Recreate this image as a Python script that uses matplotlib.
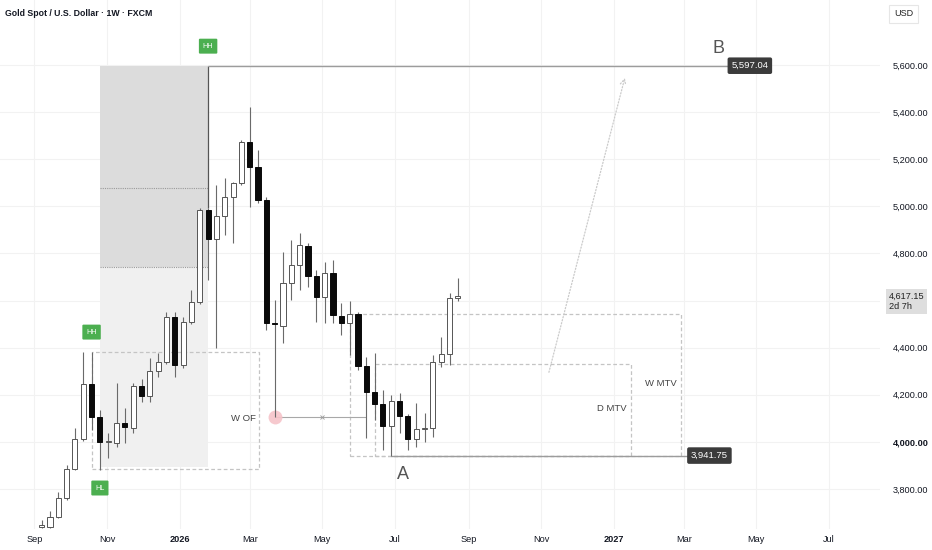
import numpy as np
import pandas as pd
import matplotlib
matplotlib.use("Agg")
import matplotlib.pyplot as plt
import matplotlib.dates as mdates
from matplotlib.patches import Rectangle

plt.rcParams['font.family'] = ['Liberation Sans', 'DejaVu Sans']

# weekly bars, Gold Spot / USD (FXCM)
dates = pd.date_range("2025-09-07", periods=51, freq="7D")
opens = [3640, 3639, 3681, 3762, 3885, 4012, 4246, 4106, 3999, 3995, 4080, 4059, 4237, 4195, 4301,
         4339, 4530, 4326, 4509, 4594, 4984, 4861, 4959, 5040, 5099, 5273, 5167, 5027, 4505, 4492,
         4674, 4751, 4832, 4704, 4615, 4717, 4535, 4505, 4543, 4322, 4212, 4161, 4067, 4174, 4110,
         4012, 4055, 4058, 4339, 4373, 4611]
highs = [3670, 3707, 3787, 3902, 4059, 4382, 4382, 4135, 4038, 4250, 4144, 4250, 4267, 4356, 4377,
         4551, 4551, 4530, 4645, 4993, 4995, 5090, 5120, 5105, 5280, 5422, 5239, 5040, 4602, 4806,
         4857, 4887, 4845, 4730, 4764, 4772, 4590, 4598, 4550, 4360, 4377, 4220, 4199, 4208, 4118,
         4165, 4123, 4369, 4445, 4632, 4696]
lows = [3635, 3635, 3675, 3755, 3880, 4005, 4050, 3881, 3932, 3978, 3995, 4038, 4169, 4169, 4275,
        4330, 4275, 4315, 4500, 4585, 4687, 4399, 4878, 4844, 5090, 4997, 5014, 4475, 4106, 4420,
        4602, 4645, 4657, 4509, 4505, 4505, 4454, 4369, 4305, 4016, 4093, 3966, 3941.75, 4038, 3966,
        3978, 3999, 4021, 4318, 4326, 4600]
closes = [3645, 3681, 3762, 3885, 4012, 4246, 4106, 3999, 4003, 4080, 4063, 4237, 4195, 4301, 4339,
          4530, 4326, 4509, 4594, 4984, 4861, 4959, 5040, 5099, 5273, 5167, 5027, 4505, 4500, 4674,
          4751, 4836, 4704, 4615, 4717, 4539, 4505, 4543, 4322, 4212, 4161, 4067, 4174, 4110, 4012,
          4055, 4060, 4339, 4373, 4611, 4617.15]

price_ticks = [3800, 4000, 4200, 4400, 4600, 4800, 5000, 5200, 5400, 5600]
month_ticks = ["2025-09-01", "2025-11-01", "2026-01-01", "2026-03-01", "2026-05-01", "2026-07-01",
               "2026-09-01", "2026-11-01", "2027-01-01", "2027-03-01", "2027-05-01", "2027-07-01"]
month_labels = ["Sep", "Nov", "2026", "Mar", "May", "Jul", "Sep", "Nov", "2027", "Mar", "May", "Jul"]

level_b = 5597.04
level_a = 3941.75
last_price = 4617.15

def d(s):
    return mdates.datestr2num(s)

fig = plt.figure(figsize=(9.32, 5.5), dpi=100)
ax = fig.add_axes([0, 21 / 550, 880 / 932, 529 / 550])
ax.set_xlim(d("2025-08-03"), d("2027-08-13"))
ax.set_ylim(3630, 5876)

# grid
ax.set_xticks([d(m) for m in month_ticks])
ax.set_xticklabels(month_labels)
ax.set_yticks(price_ticks)
ax.set_yticklabels(["" if p == 4600 else f"{p:,.2f}" for p in price_ticks])
ax.grid(True, color="#f2f2f2", lw=0.8, zorder=0)
ax.set_axisbelow(True)
ax.yaxis.tick_right()
ax.tick_params(length=0, labelsize=6.6, colors="#131722")
ax.tick_params(axis="y", pad=9)
ax.tick_params(axis="x", pad=4)
for lab in ax.get_xticklabels():
    if lab.get_text() in ("2026", "2027"):
        lab.set_fontweight("bold")
for lab in ax.get_yticklabels():
    if lab.get_text() == "4,000.00":
        lab.set_fontweight("bold")
for s in ax.spines.values():
    s.set_visible(False)

# shaded zone behind the rally
x0, x1 = d("2025-10-26"), d("2026-01-25")
ax.add_patch(Rectangle((x0, 4742), x1 - x0, level_b - 4742, fc="#dcdcdc", ec="none", zorder=1))
ax.add_patch(Rectangle((x0, 3893), x1 - x0, 4742 - 3893, fc="#f0f0f0", ec="none", zorder=1))
ax.hlines([5078, 4742], x0, x1, colors="#9a9a9a", linestyles=(0, (1, 1)), lw=0.8, zorder=1.5)

# dashed boxes
def box(a, b, lo, hi):
    ax.add_patch(Rectangle((d(a), lo), d(b) - d(a), hi - lo, fill=False, ec="#c4c4c4",
                           ls=(0, (3, 2)), lw=0.9, zorder=1.6))

box("2025-10-19", "2026-03-09", 3885, 4382)
box("2026-05-24", "2027-02-27", level_a, 4543)
box("2026-06-14", "2027-01-16", level_a, 4331)
ax.text(d("2026-03-06"), 4100, "W OF", ha="right", va="center", fontsize=6.8, color="#444", zorder=2)
ax.text(d("2027-02-23"), 4248, "W MTV", ha="right", va="center", fontsize=6.8, color="#444", zorder=2)
ax.text(d("2027-01-12"), 4140, "D MTV", ha="right", va="center", fontsize=6.8, color="#444", zorder=2)

# levels A / B
ax.vlines(d("2026-01-25"), 4995, level_b, colors="#555", lw=0.9, zorder=2)
ax.hlines(level_b, d("2026-01-25"), d("2027-04-09"), colors="#9c9c9c", lw=1.0, zorder=2)
ax.hlines(level_a, d("2026-06-28"), d("2027-03-06"), colors="#9c9c9c", lw=1.0, zorder=2)
ax.text(d("2027-04-10"), level_b, f"{level_b:,.2f}", ha="left", va="center", fontsize=6.8,
        color="white", zorder=5,
        bbox=dict(boxstyle="round,pad=0.4,rounding_size=0.2", fc="#3b3b3b", ec="none"))
ax.text(d("2027-03-07"), level_a, f"{level_a:,.2f}", ha="left", va="center", fontsize=6.8,
        color="white", zorder=5,
        bbox=dict(boxstyle="round,pad=0.4,rounding_size=0.2", fc="#3b3b3b", ec="none"))
ax.text(d("2027-03-30"), 5672, "B", ha="center", va="center", fontsize=13, color="#555", zorder=5)
ax.text(d("2026-07-08"), 3862, "A", ha="center", va="center", fontsize=13, color="#555", zorder=5)

# sweep marker
ax.hlines(4106, d("2026-03-22"), d("2026-06-07"), colors="#a8a8a8", lw=0.8, zorder=2)
ax.plot(d("2026-05-01"), 4106, marker="x", ms=2.5, color="#999", mew=0.6, zorder=2)
ax.plot(d("2026-03-22"), 4106, marker="o", ms=10, color="#f6c3c9", mec="none", alpha=0.9, zorder=2.5)

# projection arrow
ax.annotate("", xy=(d("2027-01-11"), 5557), xytext=(d("2026-11-07"), 4284),
            arrowprops=dict(arrowstyle="->", color="#cacaca", lw=0.9, ls=(0, (1, 1.5))), zorder=2)

# HH / HL tags
def tag(date, price, txt):
    ax.text(d(date), price, txt, ha="center", va="center", fontsize=5.2, color="white", zorder=6,
            bbox=dict(boxstyle="round,pad=0.55,rounding_size=0.15", fc="#4caf50", ec="none"))

tag("2026-01-25", 5680, "HH")
tag("2025-10-19", 4466, "HH")
tag("2025-10-26", 3804, "HL")

# candles
x = mdates.date2num(dates)
o = np.array(opens)
c = np.array(closes)
up = c >= o
body_lo = np.minimum(o, c)
body_h = np.maximum(np.abs(c - o), 4)
ax.vlines(x, lows, highs, colors="#6a6a6a", lw=0.8, zorder=3)
ax.bar(x[up], body_h[up], 4.3, bottom=body_lo[up], color="white", edgecolor="#555555", lw=0.7, zorder=4)
ax.bar(x[~up], body_h[~up], 4.3, bottom=body_lo[~up], color="#0a0a0a", edgecolor="#0a0a0a", lw=0.7, zorder=4)

# last price tag on the scale
ax.text(889 / 880, 4596, f"{last_price:,.2f}\n2d 7h", transform=ax.get_yaxis_transform(),
        ha="left", va="center", fontsize=6.6, color="#222", linespacing=1.1, zorder=6,
        bbox=dict(boxstyle="square,pad=0.3", fc="#dedede", ec="none"), clip_on=False)

fig.text(5 / 932, 1 - 14 / 550, "Gold Spot / U.S. Dollar · 1W · FXCM", ha="left", va="center",
         fontsize=6.3, fontweight="bold", color="#131722")
fig.text(894 / 932, 1 - 14 / 550, "USD", ha="left", va="center", fontsize=6.5, color="#222",
         bbox=dict(boxstyle="square,pad=0.5", fc="white", ec="#e6e6e6", lw=0.8))

fig.savefig("out.png", dpi=100)
